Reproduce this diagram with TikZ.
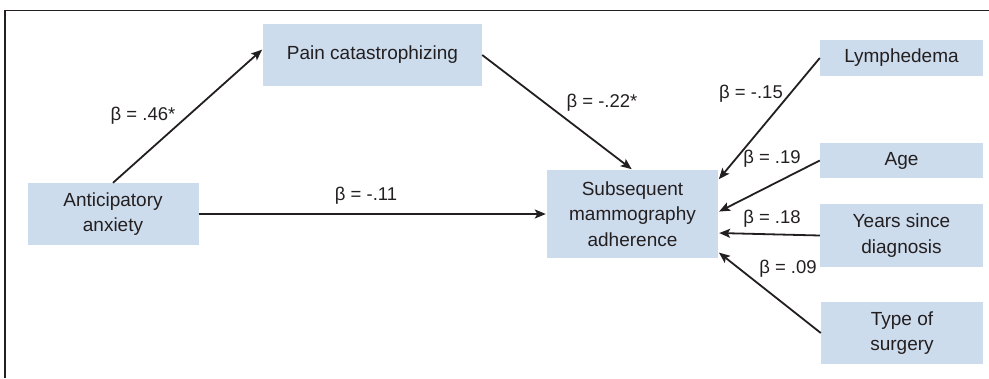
\documentclass[tikz,border=0pt]{standalone}
\usepackage{fontspec}
\setmainfont{Liberation Sans}
\usetikzlibrary{arrows.meta}
\definecolor{boxblue}{RGB}{205,220,237}
\definecolor{inkgray}{RGB}{35,31,32}

\begin{document}
\begin{tikzpicture}[x=1pt, y=-1pt,
    box/.style={fill=boxblue, align=center, inner sep=0pt, text=inkgray, font=\fontsize{19}{25.5}\selectfont},
    link/.style={-{Stealth[length=11pt, width=9pt, inset=2.5pt]}, line width=1.8pt, draw=inkgray, shorten >=1pt},
    coef/.style={text=inkgray, inner sep=0pt, font=\fontsize{18.5}{22}\selectfont}]
    \useasboundingbox (0,0) rectangle (989,378);
    % Frame
    \draw[line width=1.3pt, draw=inkgray] (5,378) -- (5,10.5) -- (989,10.5);

    % Variables
    \node[box, minimum width=219pt, minimum height=62pt] (pain) at (372.5,55) {Pain catastrophizing};
    \node[box, minimum width=171pt, minimum height=62pt] (anx) at (113,214) {Anticipatory\\anxiety};
    \node[box, minimum width=171pt, minimum height=88pt] (adh) at (632.5,214) {Subsequent\\mammography\\adherence};
    \node[box, minimum width=163pt, minimum height=36pt] (lymph) at (901.5,58) {Lymphedema};
    \node[box, minimum width=163pt, minimum height=35pt] (age) at (901.5,160.5) {Age};
    \node[box, minimum width=163pt, minimum height=63pt] (years) at (901.5,235.5) {Years since\\diagnosis};
    \node[box, minimum width=162pt, minimum height=62pt] (surg) at (902,333) {Type of\\surgery};

    % Paths
    \draw[link] (anx.north) -- ([yshift=6pt]pain.west);
    \draw[link] (pain.east) -- (adh.north);
    \draw[link] (anx.east) -- (adh.west);
    \draw[link] (lymph.west) -- ([yshift=34pt]adh.east);
    \draw[link] (age.west) -- ([yshift=2pt]adh.east);
    \draw[link] (years.west) -- ([yshift=-19pt]adh.east);
    \draw[link] (surg.west) -- ([yshift=-38pt]adh.east);

    % Coefficients
    \node[coef] (b1) at (143,116) {β = .46*};
    \node[coef] (b2) at (602,103) {β = -.22*};
    \node[coef] (b3) at (366,196) {β = -.11};
    \node[coef] (b4) at (751,94) {β = -.15};
    \node[coef] (b5) at (772,159) {β = .19};
    \node[coef] (b6) at (772,219) {β = .18};
    \node[coef] (b7) at (788,269) {β = .09};
\end{tikzpicture}
\end{document}
